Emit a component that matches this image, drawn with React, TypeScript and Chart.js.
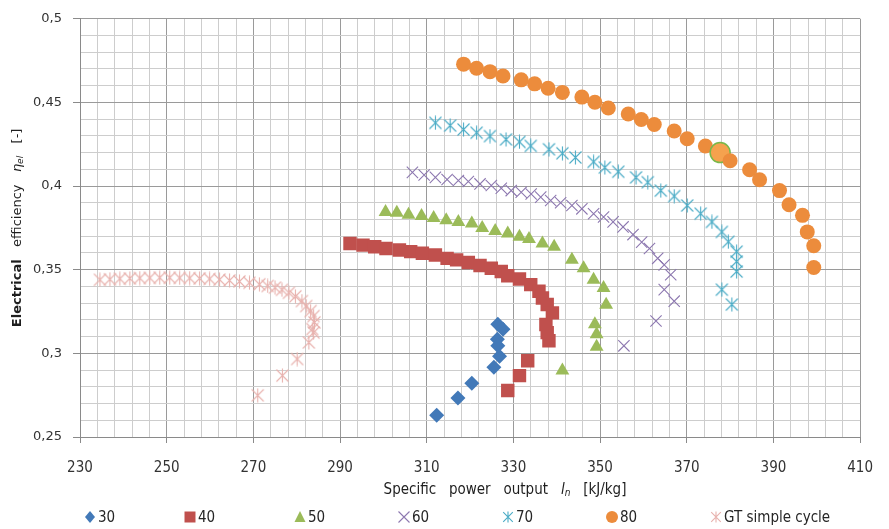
import { useEffect, useRef } from 'react';
import { Chart, registerables } from 'chart.js';

Chart.register(...registerables);

// Axis ranges and tick spacing
const X_MIN = 230;
const X_MAX = 410;
const X_STEP = 4;
const X_MAJOR = 20;
const Y_MIN = 0.25;
const Y_MAX = 0.5;
const Y_STEP = 0.01;

// Series names (pressure ratio groups) and the simple-cycle reference
const SERIES_LABELS = ['30', '40', '50', '60', '70', '80', 'GT simple cycle'];

// Specific power output l_n [kJ/kg] and electrical efficiency [-] per series
const s30_x = [326.4, 327.6, 326.3, 326.4, 326.8, 325.5, 320.4, 317.2, 312.3];
const s30_y = [0.3174, 0.3144, 0.3085, 0.3045, 0.2982, 0.2917, 0.2822, 0.2733, 0.263];

const s40_x = [292.3, 295.3, 298.0, 300.6, 303.7, 306.3, 309.0, 312.0, 314.7, 316.9, 319.6, 322.3, 324.9, 327.2, 328.7, 331.4, 334.0, 335.9, 336.7, 337.8, 339.0, 337.5, 337.8, 338.2, 333.3, 331.4, 328.7];
const s40_y = [0.3657, 0.3647, 0.3637, 0.3627, 0.3618, 0.3608, 0.3598, 0.3588, 0.3568, 0.3559, 0.3543, 0.3525, 0.3509, 0.3489, 0.3464, 0.3444, 0.3411, 0.3371, 0.3331, 0.3292, 0.3242, 0.3173, 0.3124, 0.3075, 0.2956, 0.2867, 0.2778];

const s50_x = [300.5, 303.1, 305.8, 308.8, 311.6, 314.5, 317.3, 320.4, 322.8, 325.8, 328.7, 331.4, 333.6, 336.7, 339.4, 343.5, 346.2, 348.5, 350.8, 351.4, 348.8, 349.2, 349.2, 341.3];
const s50_y = [0.3845, 0.3841, 0.3829, 0.3821, 0.3809, 0.3796, 0.3786, 0.3776, 0.375, 0.3732, 0.3716, 0.3697, 0.3683, 0.3657, 0.3637, 0.3559, 0.3509, 0.344, 0.339, 0.329, 0.3174, 0.3114, 0.304, 0.2897];

const s60_x = [306.7, 309.4, 312.0, 314.7, 317.3, 319.6, 322.3, 324.9, 327.2, 329.5, 331.8, 334.1, 336.3, 338.6, 340.9, 343.5, 345.8, 348.5, 350.8, 353.0, 355.3, 357.6, 359.6, 361.4, 363.3, 364.8, 366.3, 364.8, 367.1, 362.9, 355.5];
const s60_y = [0.4082, 0.4066, 0.4052, 0.4039, 0.4033, 0.4027, 0.4013, 0.4003, 0.3987, 0.3973, 0.3963, 0.3953, 0.3934, 0.3914, 0.39, 0.3884, 0.3864, 0.3835, 0.3815, 0.3786, 0.3756, 0.371, 0.3665, 0.3627, 0.3568, 0.3529, 0.347, 0.3381, 0.3312, 0.3193, 0.3045];

const s70_x = [312.0, 315.4, 318.5, 321.5, 324.6, 328.3, 331.4, 334.0, 338.2, 341.3, 344.3, 348.5, 351.1, 354.2, 358.3, 361.0, 364.0, 367.1, 370.1, 373.2, 375.8, 378.1, 379.6, 381.5, 381.5, 381.5, 378.1, 380.4];
const s70_y = [0.4378, 0.4362, 0.4338, 0.4319, 0.4299, 0.4279, 0.4264, 0.424, 0.422, 0.4196, 0.4171, 0.4145, 0.4111, 0.4086, 0.4052, 0.4023, 0.3973, 0.394, 0.3884, 0.3835, 0.3786, 0.3726, 0.3667, 0.3608, 0.3549, 0.3489, 0.3381, 0.3292];

const s80_x = [318.5, 321.5, 324.6, 327.6, 331.8, 334.9, 338.0, 341.3, 345.8, 348.8, 351.9, 356.5, 359.5, 362.5, 367.1, 370.1, 374.3, 377.7, 380.0, 384.5, 386.8, 391.4, 393.6, 396.7, 397.8, 399.3, 399.3];
const s80_y = [0.4729, 0.4704, 0.4684, 0.4658, 0.4635, 0.4611, 0.4585, 0.456, 0.4532, 0.4501, 0.4467, 0.4431, 0.4398, 0.4368, 0.4329, 0.4283, 0.424, 0.42, 0.4151, 0.4098, 0.4038, 0.3973, 0.3888, 0.3825, 0.3726, 0.3643, 0.3513];
// the selected point of series 80
const S80_SELECTED = 17;

const gt_x = [234.6, 236.9, 239.2, 241.5, 243.8, 246.1, 248.4, 250.7, 253.0, 255.3, 257.6, 259.9, 262.2, 264.5, 266.8, 269.1, 271.4, 273.3, 275.0, 276.6, 278.2, 279.7, 281.2, 282.2, 283.2, 283.9, 284.1, 283.6, 283.9, 282.8, 280.1, 276.7, 271.0];
const gt_y = [0.344, 0.3443, 0.3446, 0.3448, 0.345, 0.3451, 0.3452, 0.3452, 0.3451, 0.345, 0.3448, 0.3445, 0.3441, 0.3436, 0.343, 0.3422, 0.3413, 0.3403, 0.3393, 0.338, 0.3362, 0.3341, 0.3313, 0.3283, 0.3253, 0.3223, 0.3185, 0.3145, 0.3124, 0.3065, 0.2966, 0.2867, 0.2749];

const COLORS = ['#4279b8', '#c0504d', '#9bbb59', '#8d78b0', '#4bacc6', '#ec8c3c', '#e8b2ae'];

const FONT_Y = "'DejaVu Sans', Verdana, sans-serif";
const FONT_X = "'Liberation Sans Narrow', 'DejaVu Sans Condensed', 'Liberation Sans', Arial, sans-serif";

const toPoints = (xs: number[], ys: number[]) => xs.map((x, i) => ({ x, y: ys[i] }));

const isMajorX = (v: number) => Math.abs((v - X_MIN) % X_MAJOR) < 1e-6;
const isMajorY = (v: number) => Math.round(v * 100) % 5 === 0;
const fmtY = (v: number) => String(Number(v.toFixed(2))).replace('.', ',');

// Excel-style asterisk marker: an X crossed by a vertical bar
function makeStar(color: string, size: number): HTMLCanvasElement {
  const c = document.createElement('canvas');
  c.width = size;
  c.height = size;
  const g = c.getContext('2d')!;
  g.strokeStyle = color;
  g.lineWidth = 1.1;
  const m = size / 2;
  const a = size * 0.4;
  const v = size / 2 - 0.5;
  g.beginPath();
  g.moveTo(m - a, m - a);
  g.lineTo(m + a, m + a);
  g.moveTo(m + a, m - a);
  g.lineTo(m - a, m + a);
  g.moveTo(m, m - v);
  g.lineTo(m, m + v);
  g.stroke();
  return c;
}

type Seg = { text: string; font: string; dy?: number };

function drawRich(ctx: CanvasRenderingContext2D, segs: Seg[], cx: number, cy: number, vertical: boolean, color: string) {
  ctx.save();
  ctx.translate(cx, cy);
  if (vertical) ctx.rotate(-Math.PI / 2);
  ctx.fillStyle = color;
  ctx.textBaseline = 'middle';
  ctx.textAlign = 'left';
  let total = 0;
  for (const s of segs) {
    ctx.font = s.font;
    total += ctx.measureText(s.text).width;
  }
  let x = -total / 2;
  for (const s of segs) {
    ctx.font = s.font;
    ctx.fillText(s.text, x, s.dy || 0);
    x += ctx.measureText(s.text).width;
  }
  ctx.restore();
}

export default function App() {
  const canvasRef = useRef<HTMLCanvasElement>(null);

  useEffect(() => {
    const star70 = makeStar(COLORS[4], 15);
    const starGT = makeStar(COLORS[6], 15);
    const legendStar70 = makeStar(COLORS[4], 12);
    const legendStarGT = makeStar(COLORS[6], 12);

    const styles: any[] = ['rectRot', 'rect', 'triangle', 'crossRot', star70, 'circle', starGT];
    const radii = [7.5, 9.5, 8, 8, 8, 7.5, 8];

    const titles = {
      id: 'axisTitles',
      afterDraw(chart: any) {
        const { ctx, chartArea } = chart;
        const yMid = (chartArea.top + chartArea.bottom) / 2;
        const fy = FONT_Y;
        drawRich(
          ctx,
          [
            { text: 'Electrical', font: `bold 13px ${fy}` },
            { text: '   efficiency   ', font: `13px ${fy}` },
            { text: 'η', font: `italic 13px ${fy}` },
            { text: 'el', font: `italic 9px ${fy}`, dy: 3 },
            { text: '   [-]', font: `13px ${fy}` },
          ],
          18,
          yMid,
          true,
          '#1e1e1e'
        );
        const fx = FONT_X;
        drawRich(
          ctx,
          [
            { text: 'Specific   power   output   ', font: `15px ${fx}` },
            { text: 'l', font: `italic 15px ${fx}` },
            { text: 'n', font: `italic 10px ${fx}`, dy: 3 },
            { text: '   [kJ/kg]', font: `15px ${fx}` },
          ],
          505,
          490,
          false,
          '#1e1e1e'
        );

        // legend row
        const legendX = [90, 190, 300, 404, 508, 612, 716];
        const ly = 517;
        SERIES_LABELS.forEach((label, i) => {
          const x = legendX[i];
          const color = COLORS[i];
          ctx.save();
          ctx.fillStyle = color;
          ctx.strokeStyle = color;
          ctx.lineWidth = 1.1;
          ctx.beginPath();
          if (i === 0) {
            ctx.moveTo(x, ly - 6);
            ctx.lineTo(x + 5, ly);
            ctx.lineTo(x, ly + 6);
            ctx.lineTo(x - 5, ly);
            ctx.closePath();
            ctx.fill();
          } else if (i === 1) {
            ctx.rect(x - 5.5, ly - 5.5, 11, 11);
            ctx.fill();
          } else if (i === 2) {
            ctx.moveTo(x, ly - 6);
            ctx.lineTo(x + 5.5, ly + 5);
            ctx.lineTo(x - 5.5, ly + 5);
            ctx.closePath();
            ctx.fill();
          } else if (i === 3) {
            ctx.moveTo(x - 5.5, ly - 5.5);
            ctx.lineTo(x + 5.5, ly + 5.5);
            ctx.moveTo(x + 5.5, ly - 5.5);
            ctx.lineTo(x - 5.5, ly + 5.5);
            ctx.stroke();
          } else if (i === 5) {
            ctx.arc(x, ly, 6, 0, Math.PI * 2);
            ctx.fill();
          } else {
            const img = i === 4 ? legendStar70 : legendStarGT;
            ctx.drawImage(img, x - img.width / 2, ly - img.height / 2);
          }
          ctx.restore();
          ctx.save();
          ctx.fillStyle = '#262626';
          ctx.font = `15px ${FONT_X}`;
          ctx.textBaseline = 'middle';
          ctx.textAlign = 'left';
          ctx.fillText(label, x + 8, ly + 1);
          ctx.restore();
        });
      },
    };

    const series = [
      toPoints(s30_x, s30_y),
      toPoints(s40_x, s40_y),
      toPoints(s50_x, s50_y),
      toPoints(s60_x, s60_y),
      toPoints(s70_x, s70_y),
      toPoints(s80_x, s80_y),
      toPoints(gt_x, gt_y),
    ];

    const datasets = series.map((data, i) => {
      const stroked = i === 3;
      const base: any = {
        label: SERIES_LABELS[i],
        data,
        showLine: false,
        pointStyle: styles[i],
        pointRadius: radii[i],
        pointBackgroundColor: COLORS[i],
        pointBorderColor: COLORS[i],
        pointBorderWidth: stroked ? 1.1 : 0,
        order: 6 - i,
      };
      if (i === 5) {
        base.pointRadius = (c: any) => (c.dataIndex === S80_SELECTED ? 10 : 7.5);
        base.pointBackgroundColor = (c: any) => (c.dataIndex === S80_SELECTED ? '#f5a24e' : COLORS[5]);
        base.pointBorderColor = (c: any) => (c.dataIndex === S80_SELECTED ? '#79b84a' : COLORS[5]);
        base.pointBorderWidth = (c: any) => (c.dataIndex === S80_SELECTED ? 1.5 : 0);
      }
      return base;
    });

    const chart = new Chart(canvasRef.current!, {
      type: 'scatter',
      data: { datasets },
      plugins: [titles],
      options: {
        animation: false,
        responsive: false,
        layout: { padding: { left: 0, right: 19, top: 15, bottom: 0 } },
        plugins: {
          legend: { display: false },
          tooltip: { enabled: false },
          title: { display: false },
        },
        scales: {
          x: {
            type: 'linear',
            min: X_MIN,
            max: X_MAX,
            afterFit: (s: any) => {
              s.height = 92;
            },
            border: { color: '#8a8a8a' },
            grid: {
              color: (c: any) => (c.tick && isMajorX(c.tick.value) ? '#9a9a9a' : '#cdcdcd'),
              tickColor: (c: any) => (c.tick && isMajorX(c.tick.value) ? '#8a8a8a' : 'rgba(0,0,0,0)'),
              tickLength: 6,
            },
            ticks: {
              stepSize: X_STEP,
              autoSkip: false,
              maxRotation: 0,
              padding: 16,
              color: '#333333',
              font: { family: FONT_X, size: 15 },
              callback: (v: any) => (isMajorX(Number(v)) ? String(v) : ''),
            },
          },
          y: {
            type: 'linear',
            min: Y_MIN,
            max: Y_MAX,
            afterFit: (s: any) => {
              s.width = 80;
            },
            border: { color: '#8a8a8a' },
            grid: {
              color: (c: any) => (c.tick && isMajorY(c.tick.value) ? '#9a9a9a' : '#cdcdcd'),
              tickColor: (c: any) => (c.tick && isMajorY(c.tick.value) ? '#8a8a8a' : 'rgba(0,0,0,0)'),
              tickLength: 7,
            },
            ticks: {
              stepSize: Y_STEP,
              autoSkip: false,
              padding: 11,
              color: '#333333',
              font: { family: FONT_Y, size: 13 },
              callback: (v: any) => (isMajorY(Number(v)) ? fmtY(Number(v)) : ''),
            },
          },
        },
      },
    });
    return () => chart.destroy();
  }, []);

  return (
    <div style={{ position: 'absolute', left: 0, top: 0, width: 889, height: 529, background: '#ffffff' }}>
      <canvas ref={canvasRef} width={889} height={529} style={{ display: 'block' }} />
    </div>
  );
}
